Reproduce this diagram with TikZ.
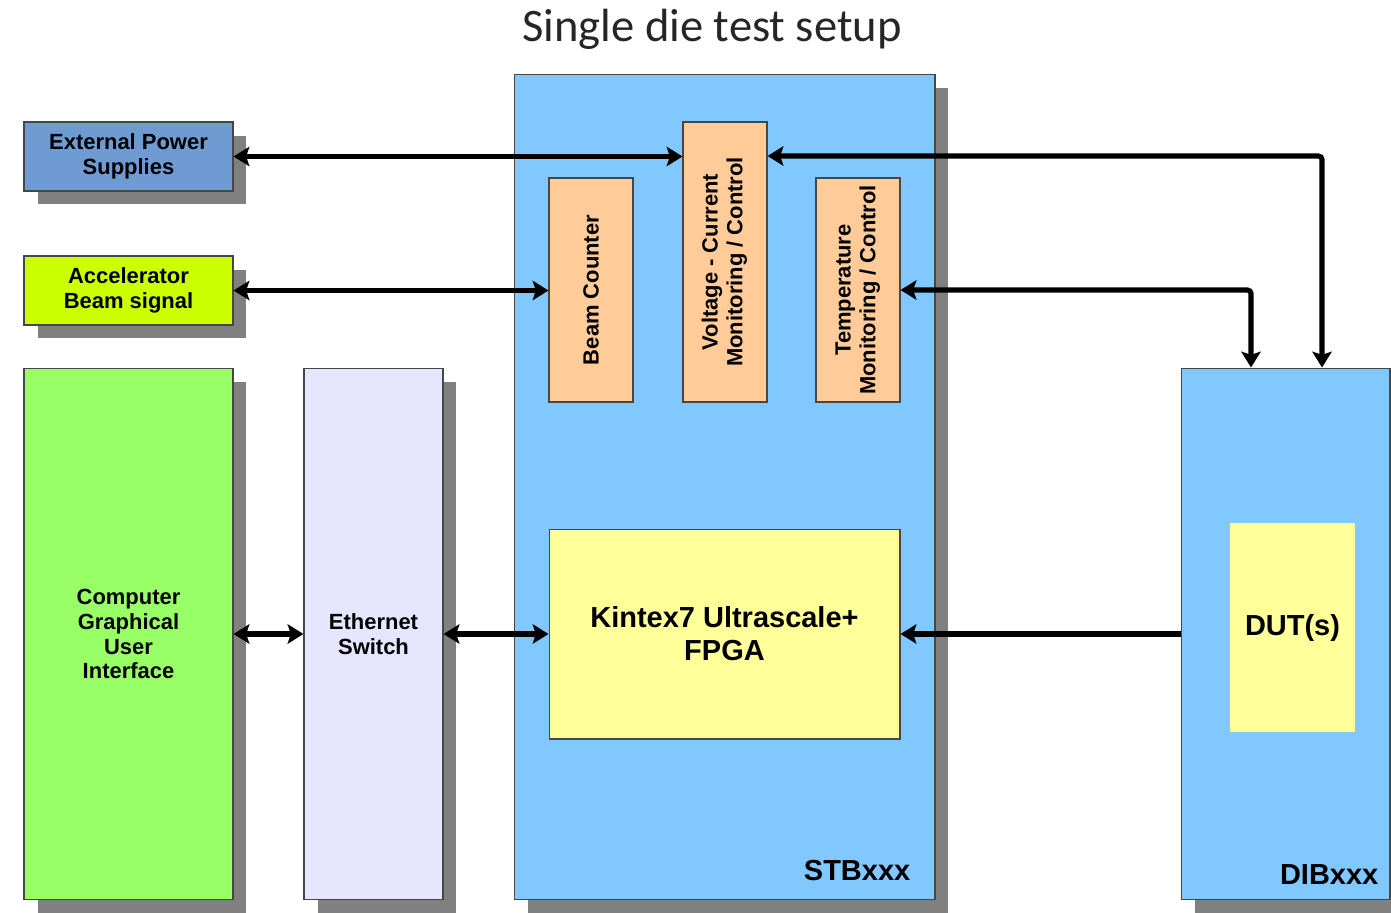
\documentclass[tikz,border=0pt]{standalone}
\usepackage{fontspec}
\setmainfont{Liberation Sans}
\newfontfamily\titlefont{Carlito}
\usepackage{graphicx}
\usetikzlibrary{arrows.meta,shadows}

\definecolor{epsblue}{RGB}{110,155,210}
\definecolor{beamlime}{RGB}{204,255,0}
\definecolor{guigreen}{RGB}{153,255,102}
\definecolor{ethlav}{RGB}{230,230,255}
\definecolor{boardblue}{RGB}{128,200,255}
\definecolor{monpeach}{RGB}{255,204,153}
\definecolor{chipyellow}{RGB}{255,255,153}
\definecolor{boxline}{RGB}{70,70,70}
\definecolor{shadowgray}{RGB}{128,128,128}

\tikzset{
	blk/.style={draw=boxline, line width=0.6pt, rectangle, text centered, align=center, inner sep=0pt, font=\fontsize{12.5}{14.2}\selectfont\bfseries},
	bigtxt/.style={font=\fontsize{16.5}{18.7}\selectfont\bfseries},
	shd/.style={drop shadow={shadow xshift=0.27cm, shadow yshift=-0.27cm, fill=shadowgray, opacity=1}},
	tip/.tip={Stealth[length=9pt, width=11pt, inset=1.8pt]},
	link/.style={line width=2.9pt, tip-tip},
	feed/.style={line width=2.9pt, -tip},
}

\begin{document}
\begin{tikzpicture}[x=0.02cm, y=-0.02cm]
	\useasboundingbox (0,0) rectangle (1391,912);

	\node (title) at (712,29) {\titlefont\fontsize{26.5}{30}\selectfont\color{black!85}Single die test setup};

	% boards
	\node (stb) [blk, shd, fill=boardblue, minimum width=8.42cm, minimum height=16.52cm] at (724.5,487) {};
	\node (dib) [blk, shd, fill=boardblue, minimum width=4.18cm, minimum height=10.64cm] at (1285.5,634) {};
	\node (stblabel) [bigtxt, anchor=base east] at ([shift={(-19,-20)}]stb.south east) {STBxxx};
	\node (diblabel) [bigtxt, anchor=base east] at ([shift={(-6,-16)}]dib.south east) {DIBxxx};

	% outside the boards
	\node (eps) [blk, shd, fill=epsblue, minimum width=4.18cm, minimum height=1.38cm] at (128.5,156.5) {External Power\\Supplies};
	\node (acc) [blk, shd, fill=beamlime, minimum width=4.18cm, minimum height=1.38cm] at (128.5,290.5) {Accelerator\\Beam signal};
	\node (gui) [blk, shd, fill=guigreen, minimum width=4.18cm, minimum height=10.64cm] at (128.5,634) {Computer\\Graphical\\User\\Interface};
	\node (eth) [blk, shd, fill=ethlav, minimum width=2.78cm, minimum height=10.64cm] at (373.5,634) {Ethernet\\Switch};

	% on the STB
	\node (beam) [blk, fill=monpeach, minimum width=1.68cm, minimum height=4.48cm] at (591,290) {\rotatebox{90}{Beam Counter}};
	\node (volt) [blk, fill=monpeach, minimum width=1.68cm, minimum height=5.6cm] at (725,262) {\rotatebox{90}{\begin{tabular}{@{}c@{}}Voltage - Current\\Monitoring / Control\end{tabular}}};
	\node (temp) [blk, fill=monpeach, minimum width=1.68cm, minimum height=4.48cm] at (858,290) {\rotatebox{90}{\begin{tabular}{@{}c@{}}Temperature\\Monitoring / Control\end{tabular}}};
	\node (fpga) [blk, bigtxt, fill=chipyellow, minimum width=7.02cm, minimum height=4.2cm] at (724.5,634) {Kintex7 Ultrascale+\\FPGA};

	% on the DIB
	\node (dut) [blk, bigtxt, draw=none, fill=chipyellow, minimum width=2.5cm, minimum height=4.18cm] at (1292.5,627.5) {DUT(s)};

	\coordinate (vturn) at (1322,156);
	\coordinate (tturn) at (1251,290);

	\draw [link] (eps.east) -- (eps.east -| volt.west);
	\draw [link, rounded corners=2pt] (volt.east |- vturn) -- (vturn) -- (vturn |- dib.north);
	\draw [link] (acc.east) -- (acc.east -| beam.west);
	\draw [link, rounded corners=2pt] (temp.east |- tturn) -- (tturn) -- (tturn |- dib.north);
	\draw [link] (gui.east |- fpga) -- (eth.west |- fpga);
	\draw [link] (eth.east |- fpga) -- (fpga.west);
	\draw [feed] (dib.west |- fpga) -- (fpga.east);
\end{tikzpicture}
\end{document}
